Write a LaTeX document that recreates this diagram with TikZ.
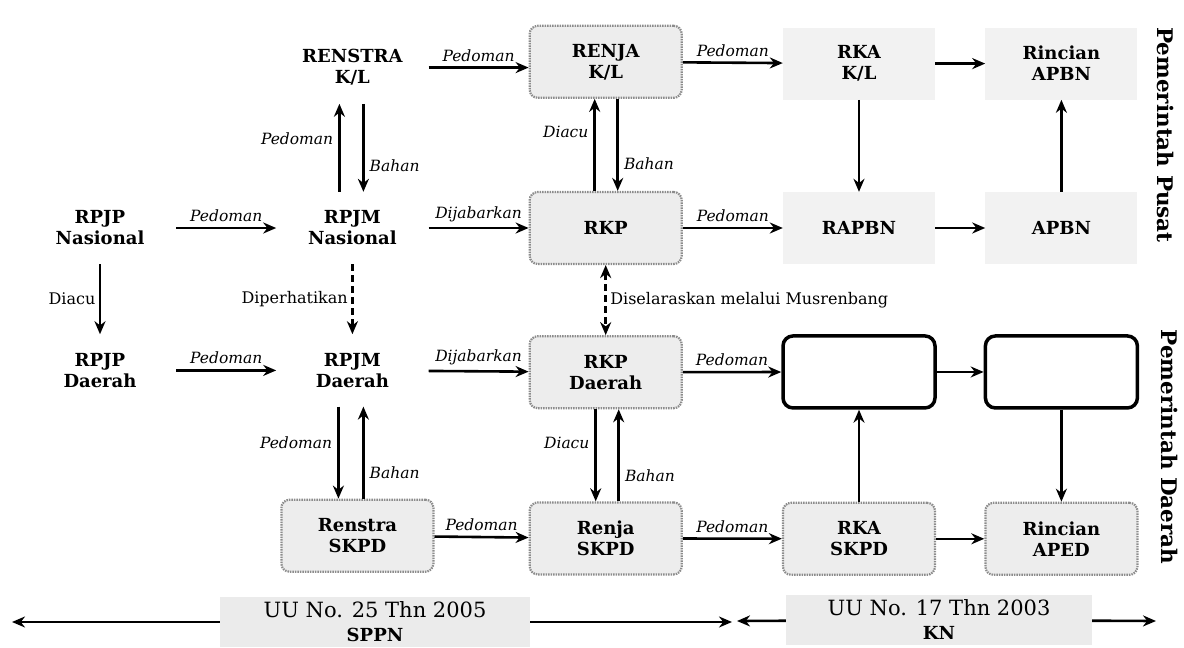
\documentclass[tikz,border=0pt]{standalone}
\usepackage{fontspec}
\setmainfont{DejaVu Serif}
\usetikzlibrary{arrows.meta,positioning}

\begin{document}
\begin{tikzpicture}[
x=1pt, y=-1pt,
node distance=92pt and 100pt,
>={Stealth[length=13pt,width=11pt]},
plainbox/.style={align=center, minimum width=152pt, minimum height=72pt, inner sep=2pt, font=\bfseries\fontsize{18}{21}\selectfont},
faintbox/.style={plainbox, fill=black!5},
greybox/.style={plainbox, fill=black!7, draw=black!45, line width=2.2pt, dash pattern=on 1.5pt off 1pt, rounded corners=8pt},
kosongbox/.style={plainbox, draw, fill=white, line width=3.5pt, rounded corners=10pt},
lawbox/.style={align=center, fill=black!8, minimum width=310pt, minimum height=50pt, inner sep=1pt, font=\fontsize{21}{24}\selectfont},
side/.style={rotate=-90, font=\bfseries\fontsize{21.5}{24}\selectfont},
lbl/.style={inner sep=5pt, font=\itshape\fontsize{15.5}{17}\selectfont},
note/.style={font=\fontsize{16}{18}\selectfont},
arrow/.style={->, line width=2.6pt},
dasharrow/.style={arrow, dash pattern=on 7pt off 4pt}
]
\useasboundingbox (0,0) rectangle (1184,648);
\node[plainbox] (rpjpn) at (100,228) {RPJP\\Nasional};
\node[plainbox, right=of rpjpn] (rpjmn) {RPJM\\Nasional};
\node[greybox, right=of rpjmn] (rkp) {RKP};
\node[faintbox, right=of rkp] (rapbn) {RAPBN};
\node[faintbox, right=50pt of rapbn] (apbn) {APBN};
\node[plainbox, above=of rpjmn, yshift=-4pt] (renstra) {RENSTRA\\K/L};
\node[greybox, above=of rkp] (renja) {RENJA\\K/L};
\node[faintbox, above=of rapbn] (rka) {RKA\\K/L};
\node[faintbox, above=of apbn] (rincian) {Rincian\\APBN};
\node[plainbox, below=70pt of rpjpn] (rpjpd) {RPJP\\Daerah};
\node[plainbox, below=70pt of rpjmn] (rpjmd) {RPJM\\Daerah};
\node[greybox, below=70pt of rkp] (rkpd) {RKP\\Daerah};
\node[kosongbox, below=70pt of rapbn] (kosongA) {};
\node[kosongbox, below=70pt of apbn] (kosongB) {};
\node[greybox, below=of rpjmd, xshift=5pt] (renstraskpd) {Renstra\\SKPD};
\node[greybox, below=of rkpd] (renjaskpd) {Renja\\SKPD};
\node[greybox, below=of kosongA] (rkaskpd) {RKA\\SKPD};
\node[greybox, below=of kosongB] (rincianaped) {Rincian\\APED};
\node[lawbox] (uu25) at (375,622) {UU No. 25 Thn 2005\\{\bfseries\fontsize{18}{22}\selectfont SPPN}};
\node[lawbox, minimum width=306pt] (uu17) at (939,620) {UU No. 17 Thn 2003\\{\bfseries\fontsize{18}{22}\selectfont KN}};
\node[side] (pusat) at (1166,135) {Pemerintah Pusat};
\node[side] (daerah) at (1170,447) {Pemerintah Daerah};
\coordinate (kiri) at (12,622);
\coordinate (tengahA) at (732,622);
\coordinate (tengahB) at (737,621);
\coordinate (kanan) at (1156,621);
\draw[arrow] (renstra.east) -- (renstra.east -| renja.west) node[lbl, above, midway] {Pedoman};
\draw[arrow] (renja) -- (rka) node[lbl, above, midway] {Pedoman};
\draw[arrow] (rka) -- (rincian);
\draw[arrow] (rpjpn) -- (rpjmn) node[lbl, above, midway] {Pedoman};
\draw[arrow] (rpjmn) -- (rkp) node[lbl, above, midway] {Dijabarkan};
\draw[arrow] (rkp) -- (rapbn) node[lbl, above, midway] {Pedoman};
\draw[arrow] (rapbn) -- (apbn);
\draw[arrow] (rka) -- (rapbn);
\draw[arrow] (apbn) -- (rincian);
\draw[arrow] ([xshift=-13pt]rpjmn.north) -- ([xshift=-13pt]renstra.south) node[lbl, left, pos=0.6] {Pedoman};
\draw[arrow] ([xshift=11pt]renstra.south) -- ([xshift=11pt]rpjmn.north) node[lbl, right, pos=0.7] {Bahan};
\draw[arrow] ([xshift=-11pt]rkp.north) -- ([xshift=-11pt]renja.south) node[lbl, left, pos=0.64] {Diacu};
\draw[arrow] ([xshift=12pt]renja.south) -- ([xshift=12pt]rkp.north) node[lbl, right, pos=0.7] {Bahan};
\draw[arrow] (rpjpn) -- (rpjpd) node[note, left, midway] {Diacu};
\draw[dasharrow] (rpjmn) -- (rpjmd) node[note, left, midway] {Diperhatikan};
\draw[dasharrow, <->] (rkp) -- (rkpd) node[note, right, midway] {Diselaraskan melalui Musrenbang};
\draw[arrow] (rpjpd) -- (rpjmd) node[lbl, above, midway] {Pedoman};
\draw[arrow] (rpjmd) -- (rkpd) node[lbl, above, midway] {Dijabarkan};
\draw[arrow] (rkpd) -- (kosongA) node[lbl, above, midway] {Pedoman};
\draw[arrow] (kosongA) -- (kosongB);
\draw[arrow] (kosongB) -- (rincianaped);
\draw[arrow] (rkaskpd) -- (kosongA);
\draw[arrow] (rkaskpd) -- (rincianaped);
\draw[arrow] (renstraskpd) -- (renjaskpd) node[lbl, above, midway] {Pedoman};
\draw[arrow] (renjaskpd) -- (rkaskpd) node[lbl, above, midway] {Pedoman};
\draw[arrow] ([xshift=-14pt]rpjmd.south) -- ([xshift=-14pt]rpjmd.south |- renstraskpd.north) node[lbl, left, pos=0.39] {Pedoman};
\draw[arrow] ([xshift=11pt]rpjmd.south |- renstraskpd.north) -- ([xshift=11pt]rpjmd.south) node[lbl, right, pos=0.28] {Bahan};
\draw[arrow] ([xshift=-10pt]rkpd.south) -- ([xshift=-10pt]renjaskpd.north) node[lbl, left, pos=0.37] {Diacu};
\draw[arrow] ([xshift=13pt]renjaskpd.north) -- ([xshift=13pt]rkpd.south) node[lbl, right, pos=0.28] {Bahan};
\draw[arrow] (uu25) -- (kiri);
\draw[arrow] (uu25) -- (tengahA);
\draw[arrow] (uu17) -- (tengahB);
\draw[arrow] (uu17) -- (kanan);
\end{tikzpicture}
\end{document}
